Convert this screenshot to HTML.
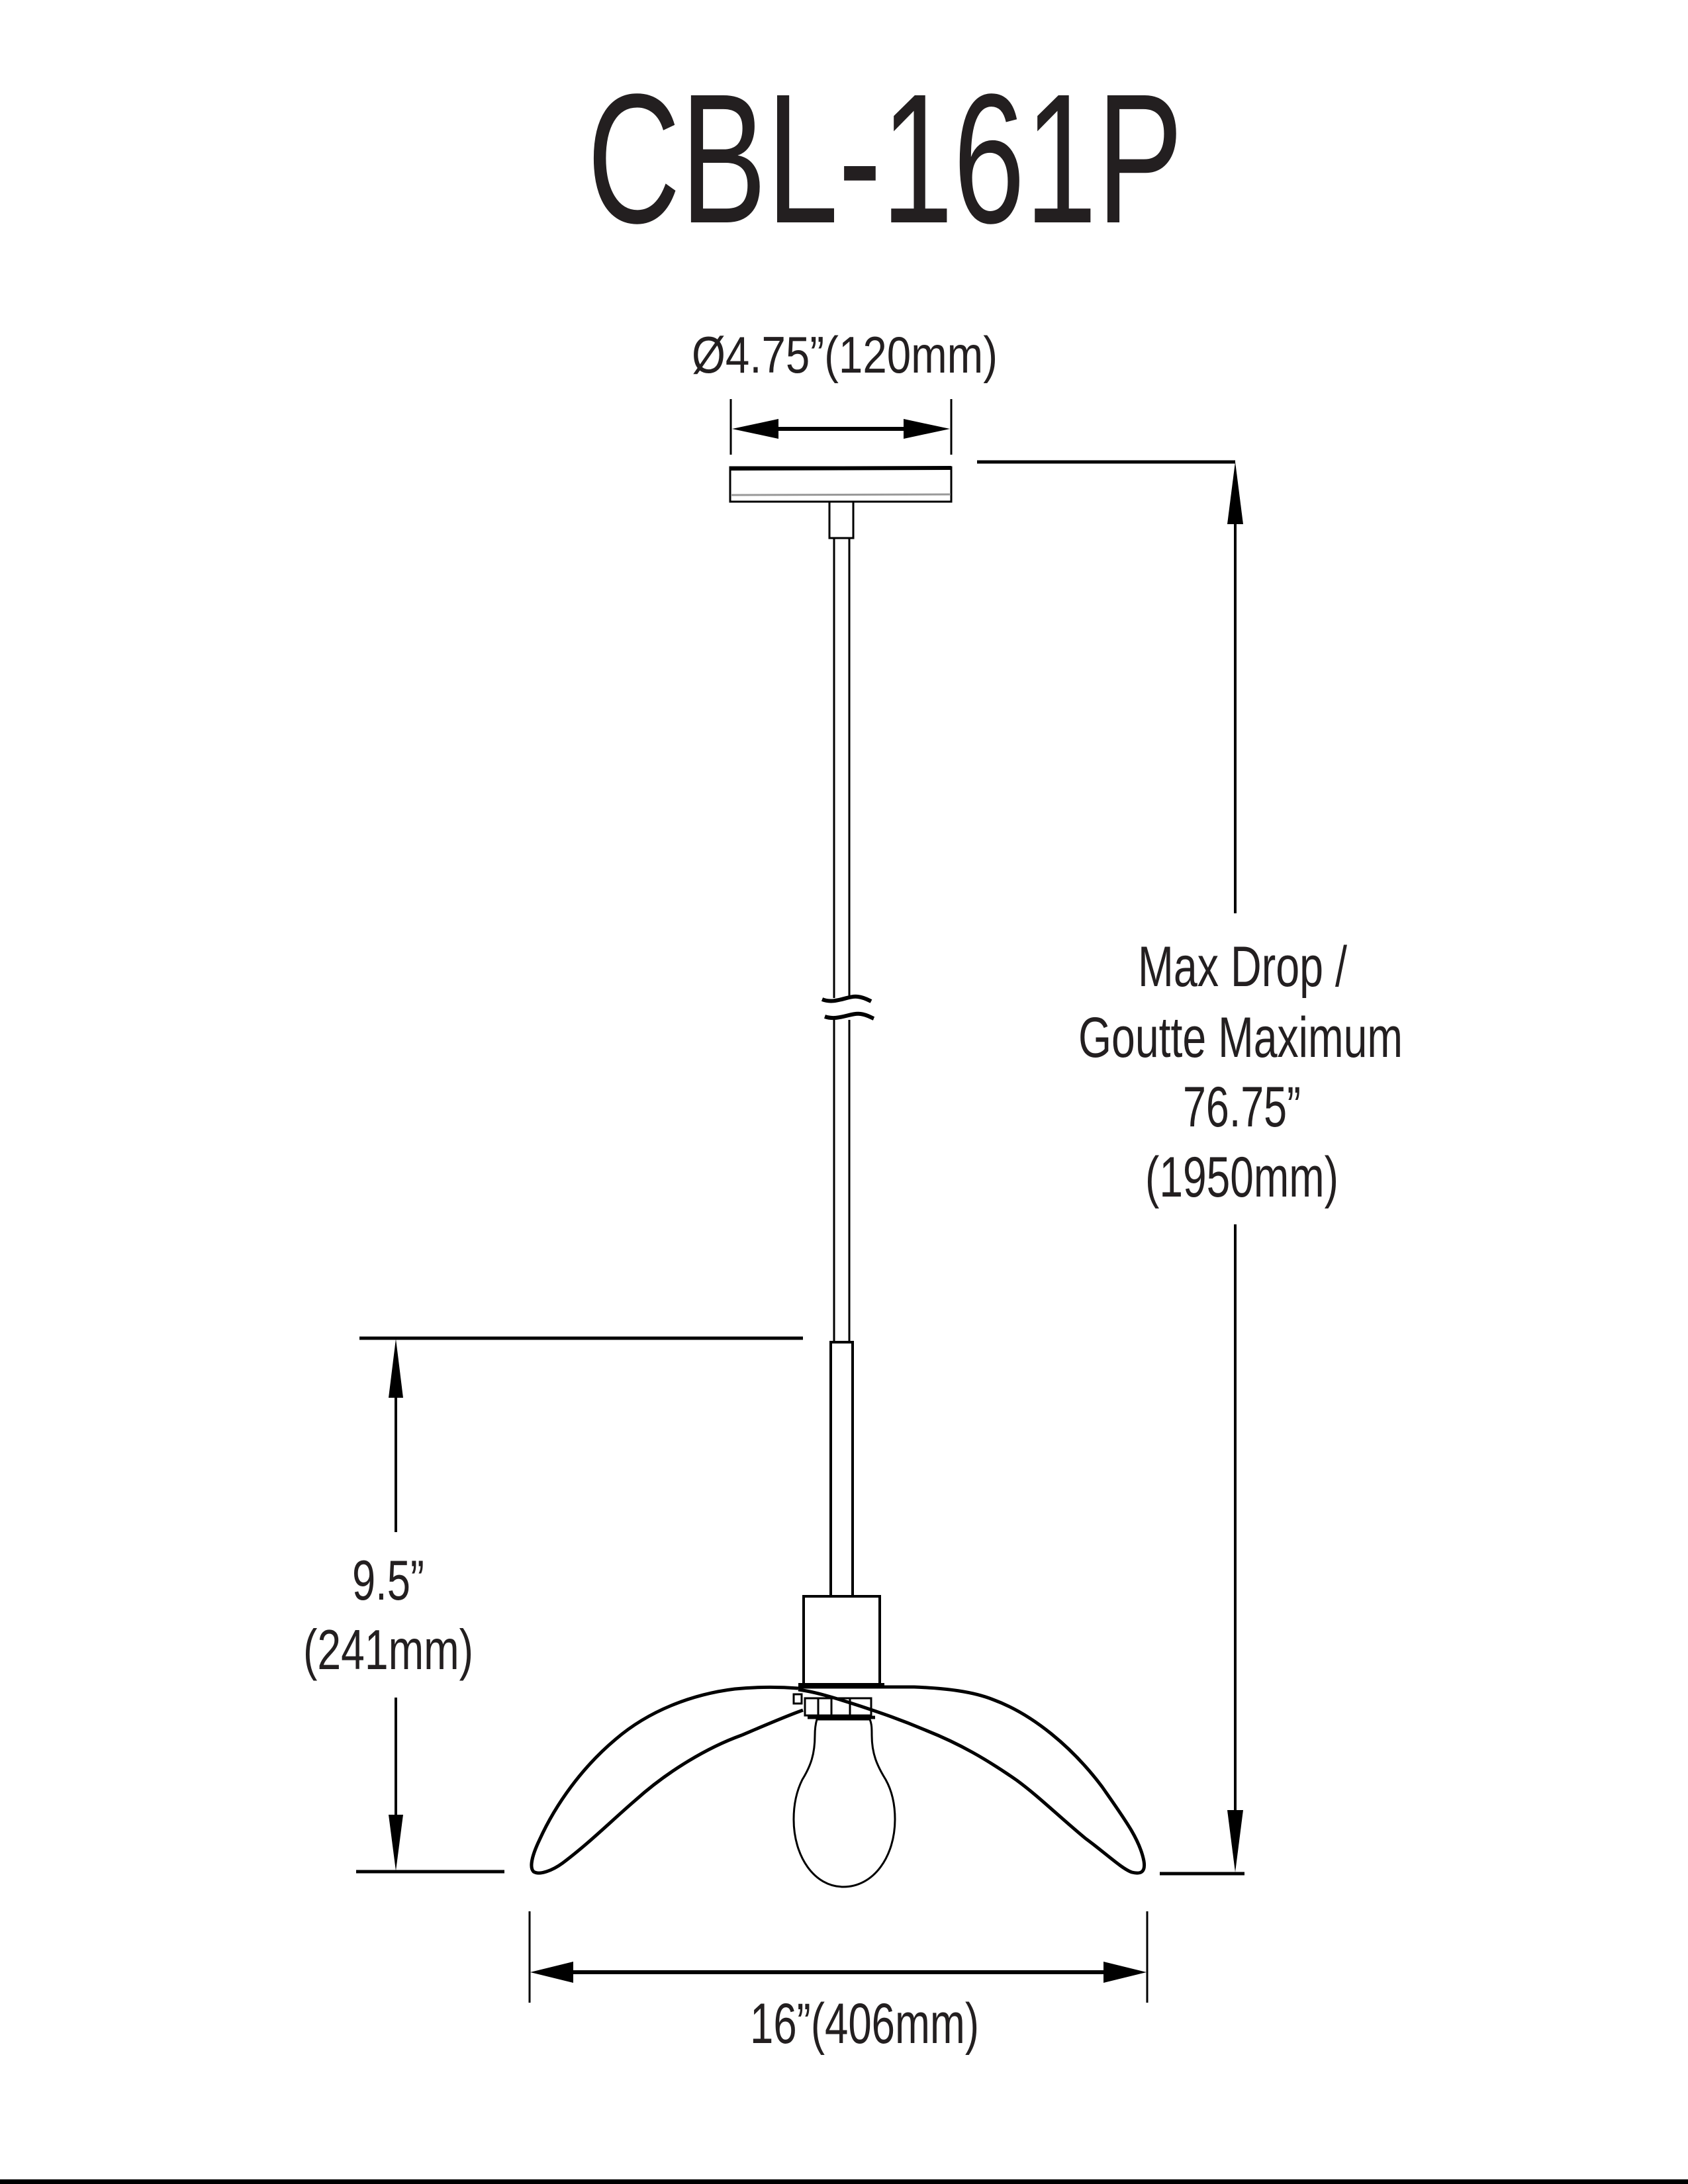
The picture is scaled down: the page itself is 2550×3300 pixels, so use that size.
<!DOCTYPE html>
<html><head><meta charset="utf-8"><style>
html,body{margin:0;padding:0;background:#fff;}
svg{display:block;}
text{font-family:"Liberation Sans Narrow","Liberation Sans",sans-serif;fill:#231f20;}
</style></head><body>
<svg width="2550" height="3300" viewBox="0 0 2550 3300" xmlns="http://www.w3.org/2000/svg">
<rect width="2550" height="3300" fill="#fff"/>
<text x="887" y="336" font-size="279" textLength="900" lengthAdjust="spacingAndGlyphs">CBL-161P</text>

<!-- diameter dim -->
<text x="1045" y="563" font-size="78" textLength="462" lengthAdjust="spacingAndGlyphs">Ø4.75”(120mm)</text>
<g stroke="#000" fill="none">
<line x1="1104" y1="603" x2="1104" y2="687" stroke-width="3"/>
<line x1="1437" y1="603" x2="1437" y2="687" stroke-width="3"/>
<line x1="1170" y1="648" x2="1372" y2="648" stroke-width="6"/>
</g>
<polygon points="1106,648 1176,633 1176,663" fill="#000"/>
<polygon points="1435,648 1365,633 1365,663" fill="#000"/>

<!-- canopy -->
<g stroke="#000" fill="none" stroke-width="3">
<rect x="1103" y="706" width="334" height="52"/>
<line x1="1103" y1="708" x2="1437" y2="707" stroke-width="6"/>
<line x1="1104" y1="748" x2="1436" y2="747" stroke="#999" stroke-width="3"/>
<rect x="1253" y="758" width="36" height="55"/>
<line x1="1260" y1="813" x2="1260" y2="1508"/>
<line x1="1283" y1="813" x2="1283" y2="1508"/>
<line x1="1260" y1="1541" x2="1260" y2="2028"/>
<line x1="1283" y1="1541" x2="1283" y2="2028"/>
<path d="M1242,1510 C1262,1518 1280,1504 1296,1506 C1305,1507 1312,1511 1316,1513" stroke-width="6"/>
<path d="M1246,1536 C1266,1543 1284,1530 1300,1532 C1309,1533 1315,1537 1320,1539" stroke-width="6"/>
</g>

<!-- max drop dim -->
<g stroke="#000" fill="none" stroke-width="5">
<line x1="1476" y1="698" x2="1866" y2="698"/>
<line x1="1866" y1="760" x2="1866" y2="1380" stroke-width="4"/>
<line x1="1866" y1="1850" x2="1866" y2="2780" stroke-width="4"/>
<line x1="1752" y1="2831" x2="1880" y2="2831"/>
</g>
<polygon points="1866,698 1854,792 1878,792" fill="#000"/>
<polygon points="1866,2829 1854,2735 1878,2735" fill="#000"/>
<text x="1719" y="1490" font-size="86" textLength="316" lengthAdjust="spacingAndGlyphs">Max Drop /</text>
<text x="1629" y="1597" font-size="86" textLength="490" lengthAdjust="spacingAndGlyphs">Goutte Maximum</text>
<text x="1787" y="1702" font-size="86" textLength="178" lengthAdjust="spacingAndGlyphs">76.75”</text>
<text x="1730" y="1808" font-size="86" textLength="292" lengthAdjust="spacingAndGlyphs">(1950mm)</text>

<!-- 9.5 dim -->
<g stroke="#000" fill="none" stroke-width="5">
<line x1="543" y1="2022" x2="1213" y2="2022"/>
<line x1="598" y1="2100" x2="598" y2="2315" stroke-width="4"/>
<line x1="598" y1="2565" x2="598" y2="2750" stroke-width="4"/>
<line x1="538" y1="2828" x2="762" y2="2828"/>
</g>
<polygon points="598,2023 587,2112 609,2112" fill="#000"/>
<polygon points="598,2827 587,2742 609,2742" fill="#000"/>
<text x="532" y="2417" font-size="85" textLength="109" lengthAdjust="spacingAndGlyphs">9.5”</text>
<text x="458" y="2522" font-size="85" textLength="257" lengthAdjust="spacingAndGlyphs">(241mm)</text>

<!-- rod & socket -->
<g stroke="#000" fill="none" stroke-width="4">
<rect x="1255" y="2028" width="33" height="384"/>
<rect x="1214" y="2412" width="115" height="133"/>
<line x1="1206" y1="2546" x2="1336" y2="2546" stroke-width="6"/>
<!-- left petal -->
<path d="M1206,2551 C1180,2549 1150,2548 1110,2552 C1045,2560 980,2585 930,2628 C880,2670 840,2725 815,2780 C803,2805 800,2822 806,2828 C815,2834 835,2826 850,2815 C890,2785 925,2750 960,2720 C1010,2675 1070,2640 1120,2622 C1160,2605 1190,2592 1213,2584" stroke-width="5"/>
<!-- right petal -->
<path d="M1206,2549 L1381,2549 C1430,2551 1470,2556 1500,2568 C1560,2590 1620,2640 1665,2700 C1700,2750 1722,2780 1728,2812 C1731,2830 1722,2832 1710,2829 C1695,2824 1670,2800 1640,2778 C1600,2745 1570,2715 1536,2690 C1490,2658 1450,2635 1400,2615 C1360,2598 1330,2588 1300,2578 C1260,2565 1230,2556 1206,2553" stroke-width="5"/>
<!-- fitter -->
<rect x="1199" y="2560" width="12" height="14" stroke-width="3"/>
<rect x="1216" y="2566" width="100" height="26" stroke-width="3"/>
<line x1="1236" y1="2566" x2="1236" y2="2592" stroke-width="3"/>
<line x1="1256" y1="2566" x2="1256" y2="2592" stroke-width="3"/>
<line x1="1284" y1="2566" x2="1284" y2="2592" stroke-width="3"/>
<line x1="1220" y1="2595" x2="1322" y2="2595" stroke-width="5"/>
<!-- bulb -->
<path d="M1234,2598 C1232,2605 1231,2612 1231,2622 C1231,2650 1225,2668 1212,2689 C1203,2707 1199,2728 1199,2749 C1199,2805 1230,2851 1274,2851 C1320,2851 1352,2805 1352,2749 C1352,2728 1348,2707 1338,2689 C1325,2668 1317,2650 1317,2622 C1317,2612 1317,2605 1314,2598 Z" stroke-width="3"/>
</g>

<!-- width dim -->
<g stroke="#000" fill="none">
<line x1="800" y1="2888" x2="800" y2="3026" stroke-width="3"/>
<line x1="1733" y1="2888" x2="1733" y2="3026" stroke-width="3"/>
<line x1="850" y1="2980" x2="1683" y2="2980" stroke-width="6"/>
</g>
<polygon points="801,2980 866,2964 866,2996" fill="#000"/>
<polygon points="1732,2980 1667,2964 1667,2996" fill="#000"/>
<text x="1133" y="3087" font-size="86" textLength="346" lengthAdjust="spacingAndGlyphs">16”(406mm)</text>

<rect x="0" y="3293" width="2550" height="7" fill="#000"/>
</svg>
</body></html>
